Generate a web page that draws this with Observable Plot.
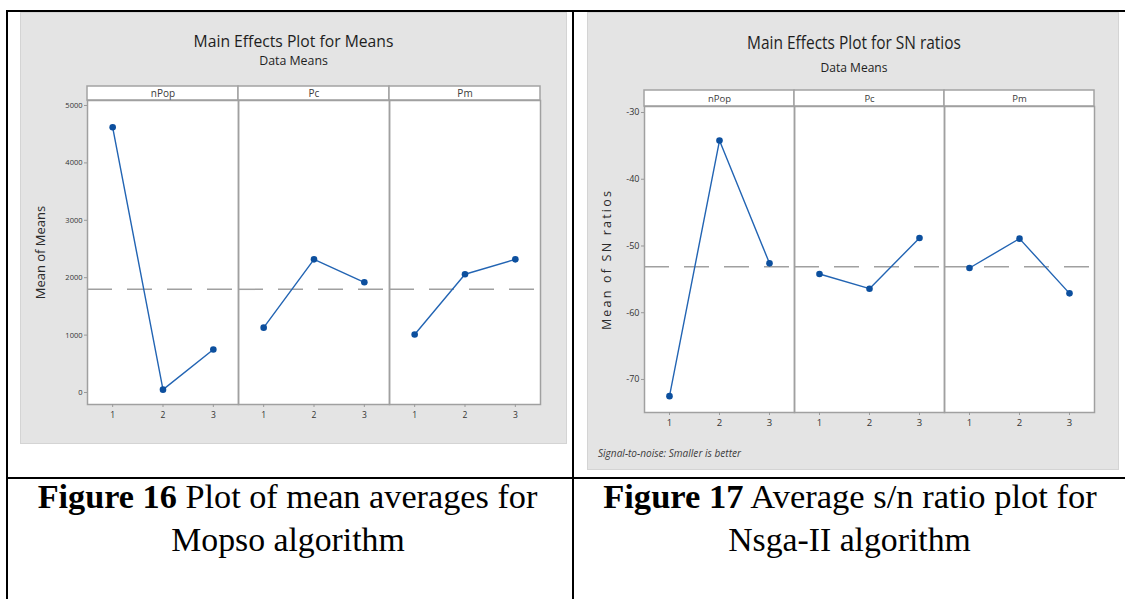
<!DOCTYPE html>
<html>
<head>
<meta charset="utf-8">
<script src="https://cdn.jsdelivr.net/npm/d3@7"></script>
<script src="https://cdn.jsdelivr.net/npm/@observablehq/plot@0.6"></script>
<style>
  body { margin: 0; background: #fff; width: 1125px; height: 599px; position: relative; overflow: hidden; font-family: "Open Sans", sans-serif; }
  .rule { position: absolute; background: #000; }
  .panel { position: absolute; background: #e4e4e4; border: 1px solid #d4d4d4; box-sizing: border-box; }
  .chart { position: absolute; }
  #overlay { position: absolute; left: 0; top: 0; pointer-events: none; }
  #c1 g[aria-label="y-axis label"] text { font-size: 13px; fill: #2a2a2a; }
  #c2 g[aria-label="y-axis label"] text { font-size: 12.5px; letter-spacing: 2.2px; fill: #2a2a2a; }
</style>
</head>
<body>
<!-- table lines -->
<div class="rule" style="left:6px;top:10px;width:1119px;height:2px"></div>
<div class="rule" style="left:6px;top:10px;width:2px;height:589px"></div>
<div class="rule" style="left:572px;top:10px;width:2px;height:589px"></div>
<div class="rule" style="left:6px;top:477px;width:1119px;height:2px"></div>
<!-- grey chart backgrounds -->
<div class="panel" style="left:20px;top:12px;width:547px;height:432px"></div>
<div class="panel" style="left:587px;top:12px;width:532px;height:458px"></div>
<div class="chart" id="c1" style="left:20px;top:80px;width:547px"></div>
<div class="chart" id="c2" style="left:587px;top:80px;width:532px"></div>
<svg id="overlay" width="1125" height="599"></svg>
<script>
// Factors and their levels
const factors = ["nPop", "Pc", "Pm"];
const levels = [1, 2, 3];

// Figure 16 – mean of means per factor level (MOPSO)
const meansNPop = [4620, 50, 750];
const meansPc = [1130, 2320, 1920];
const meansPm = [1010, 2060, 2320];
const meanTicks = [0, 1000, 2000, 3000, 4000, 5000];

// Figure 17 – mean of S/N ratios per factor level (NSGA-II)
const snNPop = [-72.5, -34.2, -52.6];
const snPc = [-54.2, -56.4, -48.8];
const snPm = [-53.3, -48.9, -57.1];
const snTicks = [-70, -60, -50, -40, -30];

function rows(series) {
  return factors.flatMap((f, i) => levels.map((l, j) => ({factor: f, level: l, value: series[i][j]})));
}

function mainEffects(o) {
  const grand = d3.mean(o.data, d => d.value);
  const plotH = o.height - o.marginTop - o.marginBottom;
  const perPx = (o.yDomain[1] - o.yDomain[0]) / plotH;
  const stripTop = o.yDomain[1] + o.stripPx * perPx;
  const stripMid = o.yDomain[1] + o.stripPx * perPx / 2;
  return Plot.plot({
    width: o.width, height: o.height,
    marginLeft: o.marginLeft, marginRight: o.marginRight,
    marginTop: o.marginTop, marginBottom: o.marginBottom,
    style: {background: "transparent", fontFamily: '"Open Sans", sans-serif', color: "#333", overflow: "visible"},
    x: {domain: [0.5, 3.5]},
    y: {domain: o.yDomain},
    fx: {domain: factors, padding: 0, axis: null},
    marks: [
      Plot.frame({fill: "white"}),
      // facet header strip with the factor name
      Plot.rect(factors, {fx: d => d, x1: () => 0.5, x2: () => 3.5, y1: () => o.yDomain[1], y2: () => stripTop,
        fill: "white", stroke: "#a3a3a3", strokeWidth: 1.5}),
      Plot.text(factors, {fx: d => d, x: () => 2, y: () => stripMid, text: d => d,
        fontSize: o.stripFont, fill: "#3a3a3a"}),
      // grand mean reference line
      Plot.ruleY([grand], {stroke: "#a0a0a0", strokeWidth: 1.5, strokeDasharray: "25,15"}),
      Plot.line(o.data, {fx: "factor", x: "level", y: "value", stroke: "#2264b3", strokeWidth: 1.4}),
      Plot.dot(o.data, {fx: "factor", x: "level", y: "value", r: 3.3, fill: "#0c4f9e", stroke: "none"}),
      Plot.frame({stroke: "#a0a0a0", strokeWidth: 1.5}),
      Plot.axisX({ticks: levels, tickFormat: d => String(d), tickSize: 3, tickPadding: 4,
        fontSize: o.tickFont, stroke: "#999", fill: "#333", label: null}),
      Plot.axisY({ticks: o.yTicks, tickFormat: d => String(d), tickSize: 3, tickPadding: 2,
        fontSize: o.yTickFont, stroke: "#999", fill: "#333",
        label: o.yLabel, labelAnchor: "center", labelArrow: "none", labelOffset: o.labelOffset})
    ]
  });
}

document.getElementById("c1").append(mainEffects({
  data: rows([meansNPop, meansPc, meansPm]),
  yDomain: [-209, 5087], yTicks: meanTicks, yLabel: "Mean of Means",
  width: 547, height: 355, marginLeft: 66, marginRight: 26, marginTop: 20, marginBottom: 31,
  stripPx: 14, stripFont: 10, tickFont: 8.5, yTickFont: 7.5, labelOffset: 52
}));

document.getElementById("c2").append(mainEffects({
  data: rows([snNPop, snPc, snPm]),
  yDomain: [-74.95, -29.1], yTicks: snTicks, yLabel: "Mean of SN ratios",
  width: 532, height: 365, marginLeft: 56, marginRight: 24, marginTop: 26, marginBottom: 33,
  stripPx: 16, stripFont: 9.5, tickFont: 9.5, yTickFont: 9, labelOffset: 42
}));

// Titles, footnote and table captions, each squeezed/stretched to its set width
const overlay = d3.select("#overlay");
function fitted(x, y, width, anchor, font, parts) {
  const t = overlay.append("text")
    .attr("text-anchor", anchor)
    .attr("font-family", font.family)
    .attr("font-size", font.size)
    .attr("font-style", font.style || "normal")
    .attr("fill", font.fill || "#000");
  for (const [s, w] of parts) t.append("tspan").attr("font-weight", w).text(s);
  const natural = t.node().getBBox().width;
  t.attr("transform", `translate(${x},${y}) scale(${width / natural},1)`);
}
const sans = {family: '"Open Sans", sans-serif', fill: "#1e1e1e"};
fitted(293.5, 47, 200, "middle", {...sans, size: 17}, [["Main Effects Plot for Means", 400]]);
fitted(293.5, 65, 69, "middle", {...sans, size: 12}, [["Data Means", 400]]);
fitted(854, 49, 214, "middle", {...sans, size: 19}, [["Main Effects Plot for SN ratios", 400]]);
fitted(854, 72, 67, "middle", {...sans, size: 13.5}, [["Data Means", 400]]);
fitted(598, 457, 144, "start", {...sans, size: 10.5, style: "italic", fill: "#3c3c3c"},
  [["Signal-to-noise: Smaller is better", 400]]);

const serif = {family: '"Liberation Serif", "Times New Roman", serif', size: 33, fill: "#000"};
fitted(287.5, 508, 500, "middle", serif, [["Figure 16", 700], [" Plot of mean averages for", 400]]);
fitted(288, 551, 234, "middle", serif, [["Mopso algorithm", 400]]);
fitted(850, 508, 494, "middle", serif, [["Figure 17", 700], [" Average s/n ratio plot for", 400]]);
fitted(849.5, 551, 243, "middle", serif, [["Nsga-II algorithm", 400]]);
</script>
</body>
</html>
